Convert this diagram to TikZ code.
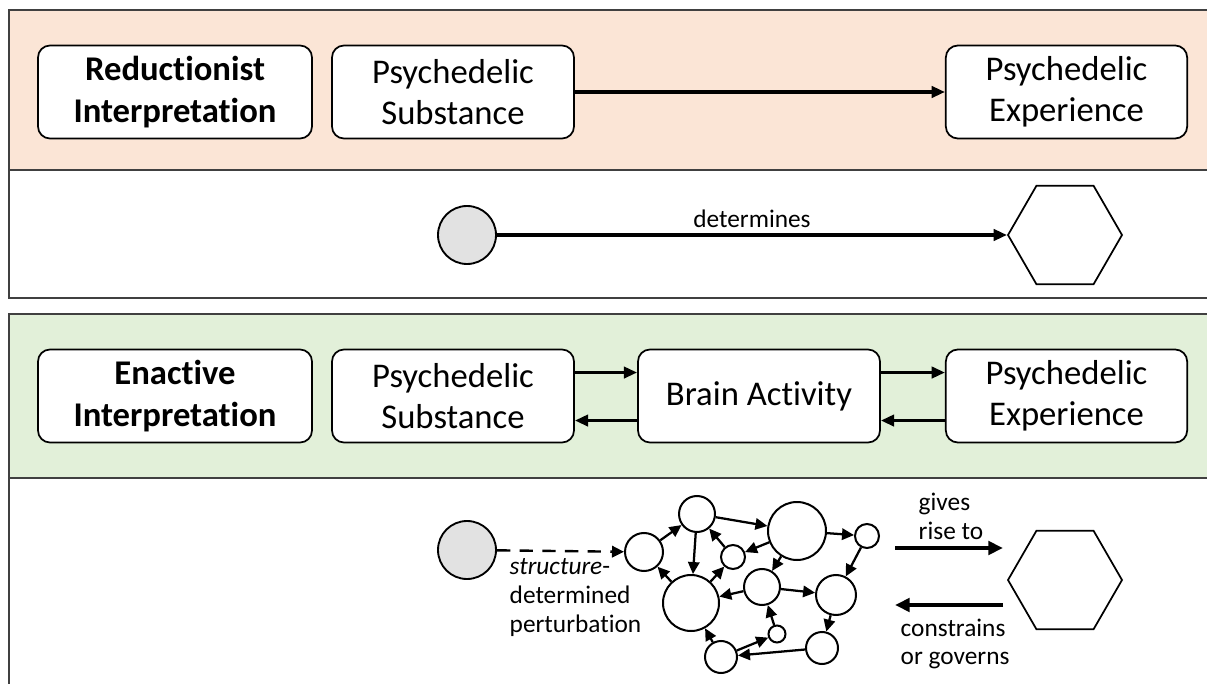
\documentclass[tikz,border=0pt]{standalone}
\usepackage{fontspec}
\setmainfont[Ligatures=NoCommon]{Carlito}
\usetikzlibrary{arrows.meta,shapes.geometric}
\definecolor{salmon}{HTML}{FBE5D6}
\definecolor{lgreen}{HTML}{E2F0D9}
\definecolor{lgray}{HTML}{E2E2E2}
\definecolor{pframe}{HTML}{404040}
\begin{document}
\begin{tikzpicture}[x=0.75pt,y=-0.75pt,
  panel/.style={draw=pframe,line width=1.5pt},
  box/.style={draw,fill=white,rounded corners=9pt,line width=1.3pt,minimum height=69.75pt,align=center,inner sep=2pt,font=\fontsize{26}{31}\selectfont},
  arrowbig/.style={-{Triangle[length=11pt,width=10pt]},line width=3.6pt},
  arrowmid/.style={-{Triangle[length=10pt,width=8.5pt]},line width=2.4pt},
  arrownet/.style={-{Triangle[length=9pt,width=8.5pt]},line width=1.7pt},
  nd/.style={circle,draw,fill=white,line width=1.5pt,inner sep=0pt,minimum size=#1},
  src/.style={circle,draw,fill=lgray,line width=1.4pt,inner sep=0pt,minimum size=43.5pt},
  hex/.style={regular polygon,regular polygon sides=6,draw,line width=1.3pt,minimum size=85.5pt,inner sep=0pt},
  lbl/.style={font=\fontsize{19}{21.5}\selectfont}
]
\useasboundingbox (0,0) rectangle (1207,684);
\clip (0,0) rectangle (1207,684);
% panels
\fill[salmon] (9,10) rectangle (1220,170);
\draw[panel] (9,10) rectangle (1220,298);
\draw[panel] (9,170) -- (1220,170);
\fill[lgreen] (9,314) rectangle (1220,478);
\draw[panel] (9,314) rectangle (1220,710);
\draw[panel] (9,478) -- (1220,478);

% top panel boxes
\node[box,minimum width=205.5pt,font=\fontsize{26}{31}\selectfont\bfseries] (R) at (175,92) {Reductionist\\Interpretation};
\node[box,minimum width=181.5pt] (S1) at (453,92) {Psychedelic\\Substance};
\node[box,minimum width=181pt] (E1) at (1066.5,92) {Psychedelic\\Experience};
\draw[arrowmid] (S1) -- (E1);

% top panel lower row
\node[src] (c1) at (467,235) {};
\node[hex] (h1) at (1065,235) {};
\draw[arrowmid] (c1) -- node[lbl,above=1pt] {determines} (h1);

% bottom panel boxes
\node[box,minimum width=205.5pt,font=\fontsize{26}{31}\selectfont\bfseries] (R2) at (175,396) {Enactive\\Interpretation};
\node[box,minimum width=181.5pt] (S2) at (453,396) {Psychedelic\\Substance};
\node[box,minimum width=181.5pt] (B2) at (759,396) {Brain Activity};
\node[box,minimum width=181pt] (E2) at (1066.5,396) {Psychedelic\\Experience};
\draw[arrowmid] ([yshift=17.6pt]S2.east) -- ([yshift=17.6pt]B2.west);
\draw[arrowmid] ([yshift=-18.4pt]B2.west) -- ([yshift=-18.4pt]S2.east);
\draw[arrowmid] ([yshift=17.6pt]B2.east) -- ([yshift=17.6pt]E2.west);
\draw[arrowmid] ([yshift=-18.4pt]E2.west) -- ([yshift=-18.4pt]B2.east);

% network
\node[src] (c2) at (467,550) {};
\node[nd=28.5pt] (A) at (644,552) {};
\node[nd=27pt] (B) at (697,514) {};
\node[nd=43.5pt] (C) at (797,531) {};
\node[nd=18pt] (D) at (867,536) {};
\node[nd=18pt] (E) at (733,557) {};
\node[nd=42pt] (F) at (691,603) {};
\node[nd=27pt] (G) at (762,587) {};
\node[nd=30pt] (H) at (836,595) {};
\node[nd=12.75pt] (I) at (777,634) {};
\node[nd=24pt] (J) at (822,648) {};
\node[nd=24pt] (K) at (721,657) {};
\draw[arrownet,line width=1.8pt,dash pattern=on 10pt off 7pt] (c2) -- (A);
\draw[arrownet] (A) -- (B);
\draw[arrownet] (B) -- (F);
\draw[arrownet] (B) -- (C);
\draw[arrownet] (C) -- (D);
\draw[arrownet] (C) -- (E);
\draw[arrownet] (E) -- (B);
\draw[arrownet] (F) -- (E);
\draw[arrownet] (F) -- (A);
\draw[arrownet] (C) -- (G);
\draw[arrownet] (G) -- (F);
\draw[arrownet] (G) -- (H);
\draw[arrownet] (D) -- (H);
\draw[arrownet] (H) -- (J);
\draw[arrownet] (J) -- (K);
\draw[arrownet] (K) -- (F);
\draw[arrownet] (K) -- (I);
\draw[arrownet] (I) -- (G);

\node[lbl,align=left,anchor=north west] (pl) at (505,554) {\textit{structure}-\\determined\\perturbation};

% right side
\node[hex] (h2) at (1065,580) {};
\coordinate (g1) at (895,548);
\coordinate (g2) at (1003,548);
\coordinate (k1) at (1003,605);
\coordinate (k2) at (895,605);
\draw[arrowbig] (g1) -- (g2);
\draw[arrowbig] (k1) -- (k2);
\node[lbl,align=left,anchor=south west] (gl) at (914,544) {gives\\rise to};
\node[lbl,align=left,anchor=north west] (cl) at (896,614) {constrains\\or governs};
\end{tikzpicture}
\end{document}
